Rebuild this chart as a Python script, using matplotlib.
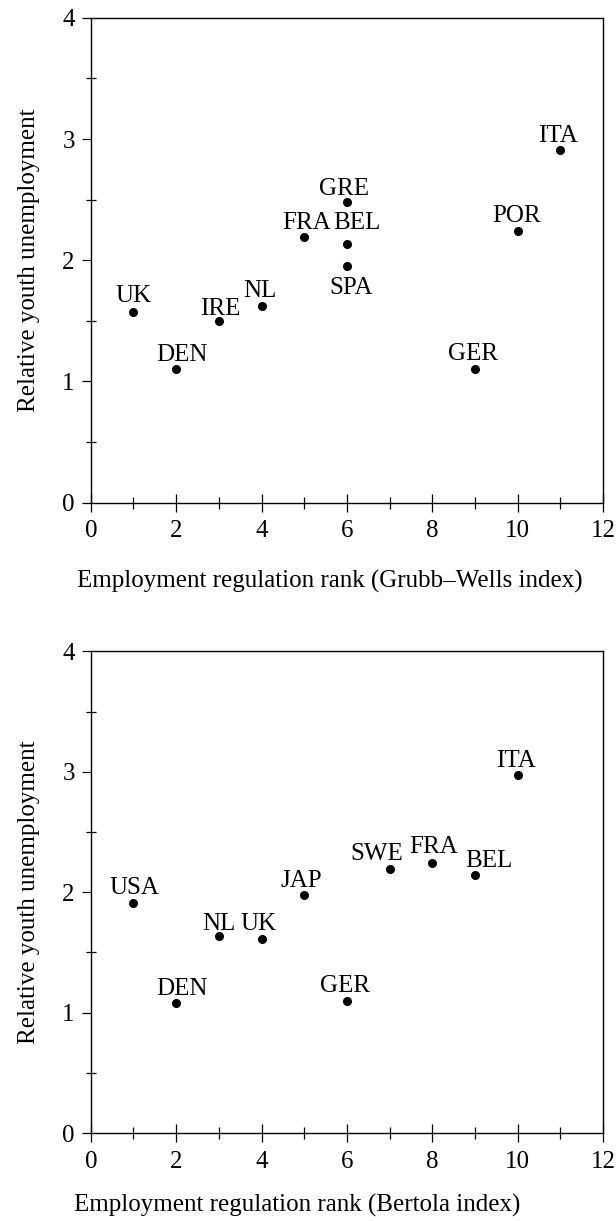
import matplotlib
matplotlib.use("Agg")
import matplotlib.pyplot as plt
from matplotlib.ticker import MultipleLocator, FixedLocator

plt.rcParams['font.family'] = ['Liberation Serif', 'DejaVu Serif']

# Top panel: Grubb-Wells index
gw_codes = ["UK", "DEN", "IRE", "NL", "FRA", "GRE", "BEL", "SPA", "GER", "POR", "ITA"]
gw_rank = [1, 2, 3, 4, 5, 6, 6, 6, 9, 10, 11]
gw_youth = [1.57, 1.10, 1.50, 1.62, 2.19, 2.48, 2.13, 1.95, 1.10, 2.24, 2.91]

# Bottom panel: Bertola index
be_codes = ["USA", "DEN", "NL", "UK", "JAP", "GER", "SWE", "FRA", "BEL", "ITA"]
be_rank = [1, 2, 3, 4, 5, 6, 7, 8, 9, 10]
be_youth = [1.91, 1.08, 1.64, 1.61, 1.98, 1.10, 2.19, 2.24, 2.14, 2.97]

x_label_top = "Employment regulation rank (Grubb\u2013Wells index)"
x_label_bot = "Employment regulation rank (Bertola index)"
y_label = "Relative youth unemployment"

# label offsets (pixels) relative to the dot
gw_off = {"UK": (0, 10), "DEN": (6, 8), "IRE": (1, 6), "NL": (-2, 9), "FRA": (2, 8),
          "GRE": (-3, 7), "BEL": (10, 15), "SPA": (4, -11), "GER": (-2, 9),
          "POR": (-1, 9), "ITA": (-2, 8)}
be_off = {"USA": (1, 9), "DEN": (6, 8), "NL": (0, 6), "UK": (-3, 9), "JAP": (-3, 8),
          "GER": (-2, 9), "SWE": (-13, 9), "FRA": (1, 10), "BEL": (14, 8), "ITA": (-2, 8)}

fig = plt.figure(figsize=(6.16, 12.21), dpi=100)
ax1 = fig.add_axes([0.1474, 0.5883, 0.8315, 0.3971])
ax2 = fig.add_axes([0.1474, 0.0719, 0.8315, 0.3947])


def style(ax, xlabel, labelpad, xlab_x):
    ax.set_xlim(0, 12)
    ax.set_ylim(0, 4)
    ax.xaxis.set_major_locator(FixedLocator([0, 2, 4, 6, 8, 10, 12]))
    ax.xaxis.set_minor_locator(FixedLocator([1, 3, 5, 7, 9, 11]))
    ax.yaxis.set_major_locator(MultipleLocator(1))
    ax.yaxis.set_minor_locator(FixedLocator([0.5, 1.5, 2.5, 3.5]))
    ax.tick_params(axis='x', which='major', direction='inout', length=13.5, width=0.9,
                   labelsize=18, pad=6, top=False)
    ax.tick_params(axis='x', which='minor', direction='inout', length=8.5, width=0.9, top=False)
    ax.tick_params(axis='y', which='major', direction='out', length=6.5, width=0.9,
                   labelsize=18, pad=5, right=False)
    ax.tick_params(axis='y', which='minor', direction='inout', length=7, width=0.9, right=False)
    for s in ax.spines.values():
        s.set_linewidth(1.0)
        s.set_color('black')
    ax.set_xlabel(xlabel, fontsize=18, labelpad=labelpad, x=xlab_x)
    ax.set_ylabel(y_label, fontsize=18, labelpad=16)


def draw(ax, codes, xs, ys, offs):
    ax.plot(xs, ys, 'o', color='black', markersize=5.5, linestyle='none', clip_on=False)
    for c, x, y in zip(codes, xs, ys):
        dx, dy = offs[c]
        va = 'top' if dy < 0 else 'baseline'
        ax.annotate(c, (x, y), xytext=(dx, dy), textcoords='offset pixels',
                    ha='center', va=va, fontsize=18)


draw(ax1, gw_codes, gw_rank, gw_youth, gw_off)
draw(ax2, be_codes, be_rank, be_youth, be_off)
style(ax1, x_label_top, 20, 0.467)
style(ax2, x_label_bot, 15, 0.403)

fig.savefig("out.png", dpi=100)
